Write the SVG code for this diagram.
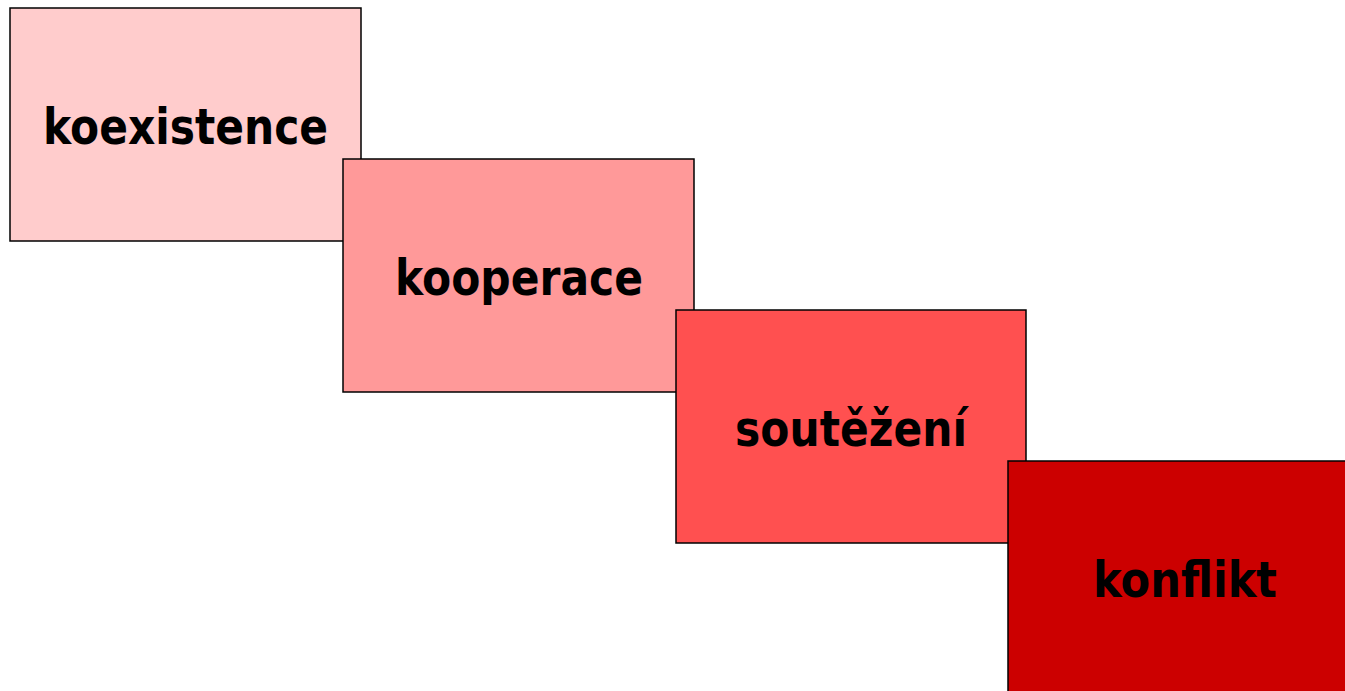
<svg xmlns="http://www.w3.org/2000/svg" width="1345" height="691" viewBox="0 0 1345 691">
<style>
.box{stroke:#000;stroke-width:1.5}
.lbl{font-family:"DejaVu Sans","Liberation Sans",sans-serif;font-weight:bold;font-size:50px;fill:#000;text-anchor:middle}
</style>
<rect width="1345" height="691" fill="#fff"/>
<g id="koexistence"><rect class="box" x="10" y="8" width="351" height="233" fill="#FFCCCC"/><text class="lbl" x="185.5" y="144" textLength="285" lengthAdjust="spacingAndGlyphs">koexistence</text></g>
<g id="kooperace"><rect class="box" x="343" y="159" width="351" height="233" fill="#FF9999"/><text class="lbl" x="519" y="295" textLength="248" lengthAdjust="spacingAndGlyphs">kooperace</text></g>
<g id="soutezeni"><rect class="box" x="676" y="310" width="350" height="233" fill="#FF5050"/><text class="lbl" x="851" y="446" textLength="232" lengthAdjust="spacingAndGlyphs">soutěžení</text></g>
<g id="konflikt"><rect class="box" x="1008" y="461" width="351" height="240" fill="#CC0000"/><text class="lbl" x="1185" y="597" textLength="184" lengthAdjust="spacingAndGlyphs">konflikt</text></g>
<g id="connectors"></g>
</svg>
